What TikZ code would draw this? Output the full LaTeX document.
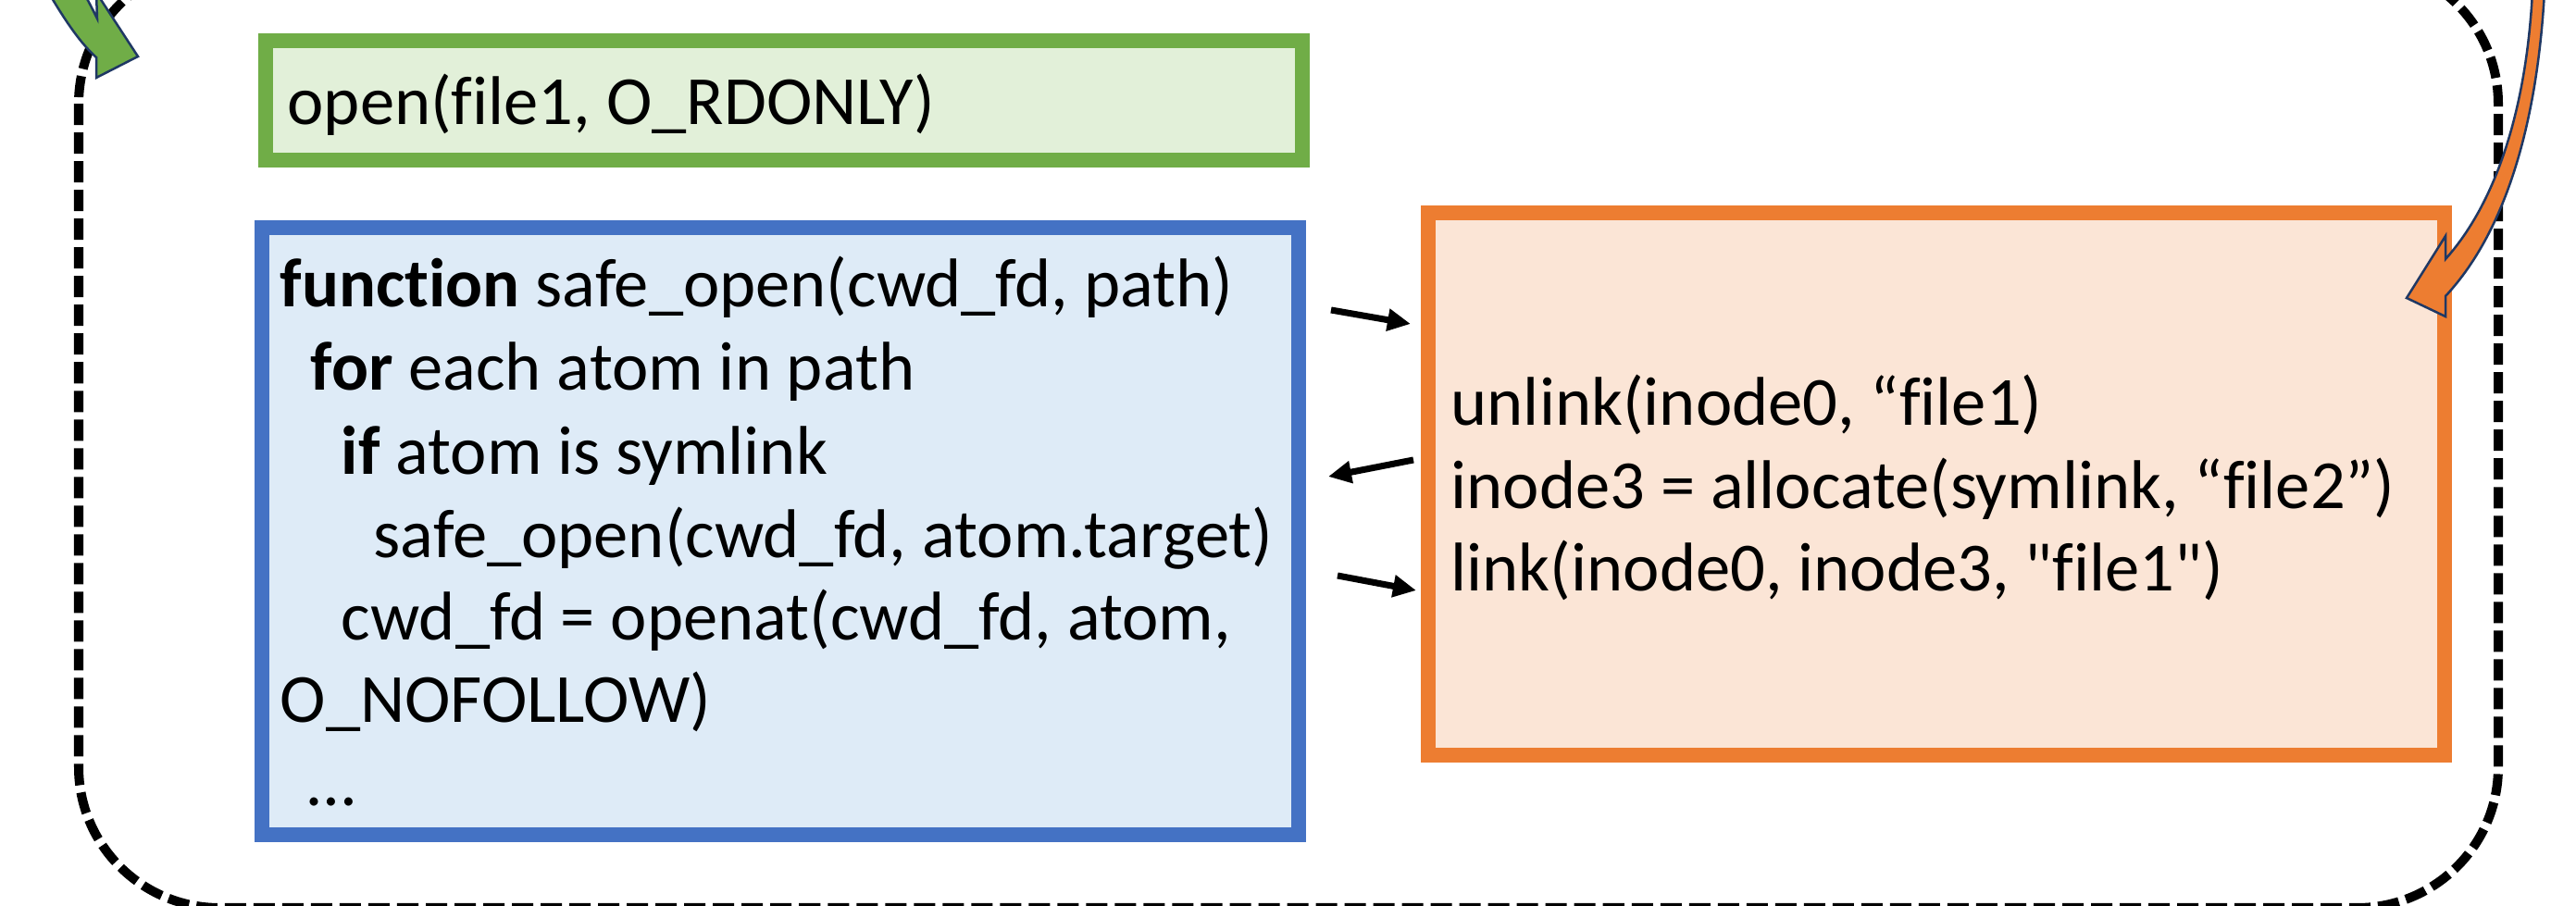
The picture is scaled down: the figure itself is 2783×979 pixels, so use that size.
\documentclass[tikz,border=0pt]{standalone}
\usepackage{fontspec}
\setmainfont[Ligatures=NoCommon]{Carlito}
\usetikzlibrary{arrows.meta}
\definecolor{grnedge}{HTML}{70AD47}
\definecolor{grnfill}{HTML}{E2F0D9}
\definecolor{bluedge}{HTML}{4472C4}
\definecolor{blufill}{HTML}{DEEBF7}
\definecolor{orgedge}{HTML}{ED7D31}
\definecolor{orgfill}{HTML}{FBE5D6}
\definecolor{navy}{HTML}{1F3864}

\begin{document}
\begin{tikzpicture}[x=0.01cm,y=-0.01cm,
  box/.style={draw, line width=0.16cm, inner sep=0pt, outer sep=0pt},
  code/.style={anchor=base west, inner sep=0pt, font=\fontsize{21.2}{25}\selectfont},
  flow/.style={line width=0.07cm, -{Triangle[length=0.25cm,width=0.23cm]}},
  loopframe/.style={line width=0.1cm, dash pattern=on 0.23cm off 0.08cm, rounded corners=1.52cm},
  blockarrow/.style={draw=navy, line width=0.025cm, line join=miter}]
\useasboundingbox (0,0) rectangle (2783,979);
\clip (0,0) rectangle (2783,979);

% the retry loop around the whole scenario
\draw[loopframe] (85,-40) rectangle (2699,981);

% boxes
\node[box, draw=grnedge, fill=grnfill, minimum width=11.2cm, minimum height=1.29cm] (open) at (847,108.5) {};
\node[box, draw=bluedge, fill=blufill, minimum width=11.2cm, minimum height=6.56cm] (safe) at (843,574) {};
\node[box, draw=orgedge, fill=orgfill, minimum width=10.98cm, minimum height=5.86cm] (race) at (2092,523) {};

% victim call
\node[code] (opentxt) at (310,135) {open(file1, O\_RDONLY)};

% safe_open pseudo code
\node[code] (l1) at (302,332) {\textbf{function} safe\_open(cwd\_fd, path)};
\node[code] (l2) at (335,422) {\textbf{for} each atom in path};
\node[code] (l3) at (368,512) {\textbf{if} atom is symlink};
\node[code] (l4) at (403,602) {safe\_open(cwd\_fd, atom.target)};
\node[code] (l5) at (368,692) {cwd\_fd = openat(cwd\_fd, atom,};
\node[code] (l6) at (302,780) {O\_NOFOLLOW)};
\node[code] (l7) at (332,870) {…};

% attacker operations
\node[code] (r1) at (1567,460) {unlink(inode0, “file1)};
\node[code] (r2) at (1567,549) {inode3 = allocate(symlink, “file2”)};
\node[code] (r3) at (1567,638) {link(inode0, inode3, \textquotedbl file1\textquotedbl)};

% interleaving arrows
\coordinate (a1s) at (1438,335);
\coordinate (a1e) at (1524,350);
\coordinate (a2s) at (1527,497);
\coordinate (a2e) at (1435,515);
\coordinate (a3s) at (1445,622);
\coordinate (a3e) at (1530,638);
\draw[flow] (a1s) -- (a1e);
\draw[flow] (a2s) -- (a2e);
\draw[flow] (a3s) -- (a3e);

% curved block arrows entering from above
\filldraw[blockarrow, fill=grnedge]
  (40,-30) .. controls (65,15) and (85,45) .. (104,62)
  -- (104,84) -- (149,61) -- (104,-8) -- (105,20)
  .. controls (100,10) and (97,4) .. (92,-5) -- (80,-30) -- cycle;
\filldraw[blockarrow, fill=orgedge]
  (2736,-10) .. controls (2730,110) and (2700,215) .. (2642,280)
  -- (2642,255) -- (2600,322) -- (2642,342) -- (2642,320)
  .. controls (2712,245) and (2742,120) .. (2749,-10) -- cycle;
\end{tikzpicture}
\end{document}
